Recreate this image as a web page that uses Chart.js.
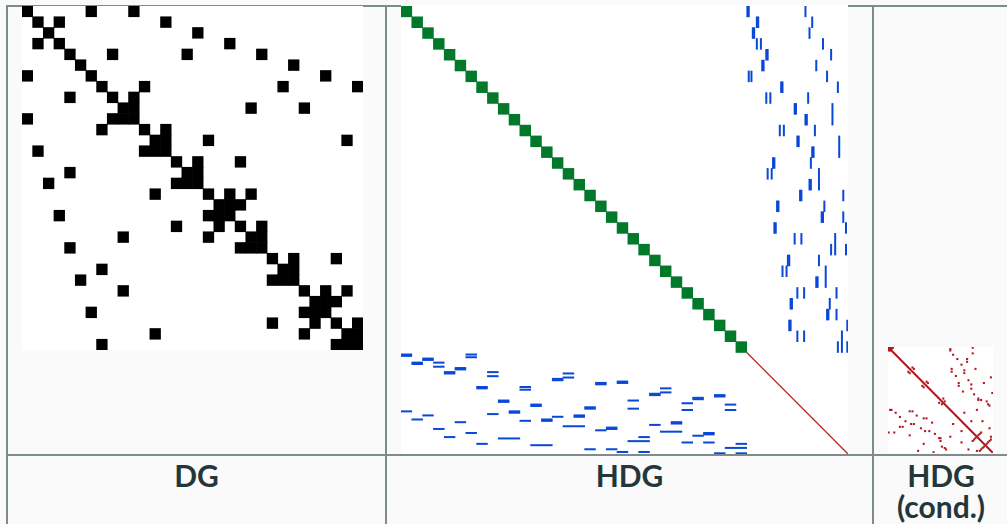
<!DOCTYPE html>
<html>
<head>
<meta charset="utf-8">
<script src="https://cdn.jsdelivr.net/npm/chart.js@4.4.1/dist/chart.umd.min.js"></script>
<style>
html,body{margin:0;padding:0;background:#fafafa;}
body{width:1007px;height:524px;position:relative;overflow:hidden;font-family:Lato,"DejaVu Sans",sans-serif;}
.ln{position:absolute;background:#7f8c8d;}
.box{position:absolute;background:#fff;}
canvas{position:absolute;}
.lbl{position:absolute;text-align:center;font-weight:bold;font-size:30px;line-height:31px;color:#23373b;}
</style>
</head>
<body>
<div class="ln" style="left:6px;top:5px;width:1001px;height:2px"></div>
<div class="ln" style="left:6px;top:5px;width:2px;height:519px"></div>
<div class="ln" style="left:385px;top:5px;width:2px;height:519px"></div>
<div class="ln" style="left:872px;top:5px;width:2px;height:519px"></div>
<div class="ln" style="left:6px;top:454px;width:1001px;height:2px"></div>

<div class="box" style="left:22px;top:6px;width:341px;height:344px"></div>
<div class="box" style="left:401px;top:5px;width:447px;height:449px"></div>
<div class="box" style="left:888px;top:347px;width:105px;height:106px"></div>

<canvas id="dg" width="341" height="344" style="left:22px;top:6px"></canvas>
<canvas id="hdgH" width="447" height="448" style="left:401px;top:6px"></canvas>
<canvas id="hdgV" width="447" height="448" style="left:401px;top:6px"></canvas>
<canvas id="cond" width="105" height="106" style="left:888px;top:347px"></canvas>

<div class="lbl" style="left:8px;top:460px;width:377px">DG</div>
<div class="lbl" style="left:387px;top:460px;width:485px">HDG</div>
<div class="lbl" style="left:874px;top:460px;width:134px">HDG<br>(cond.)</div>

<script>
// DG: 32x32 pattern, nonzero columns of each row
const DG_N = 32;
const DG_ROWS = [
  [0,6,10],[1,3,13],[2,16],[1,3,19],[4,8,15,22],[5,25],[0,6,28],[7,11,24,31],
  [4,8,10],[9,10,21,26],[0,8,9,10],[7,11,13],[12,13,17,30],[1,11,12,13],[14,16,20],[4,15,16],
  [2,14,15,16],[12,17,19,21],[18,19,20],[3,17,18,19],[14,18,20,22],[9,17,21,22],[4,20,21,22],[23,25,29],
  [7,24,25],[5,23,24,25],[9,26,28,30],[27,28,29],[6,26,27,28],[23,27,29,31],[12,26,30,31],[7,29,30,31]
];

// HDG: 32 element blocks of 8 dofs, then 75 face dofs (331 in total)
const HDG_N = 331;
const HDG_BLOCK = 8;
const HDG_ELEMS = [0,1,2,3,4,5,6,7,8,9,10,11,12,13,14,15,16,17,18,19,20,21,22,23,24,25,26,27,28,29,30,31];
// upper right block: [element row, face column, element rows spanned]
const HDG_UPPER = [
  [0,256,1],[0,257,1],[0,299,1],
  [1,263,1],[1,264,1],[1,304,1],
  [2,260,1],[2,261,1],[2,302,1],
  [3,263,1],[3,266,1],[3,312,1],
  [4,270,1],[4,271,1],[4,318,1],
  [5,267,1],[5,268,1],[5,307,1],
  [6,257,1],[6,259,1],[6,315,1],
  [7,281,1],[7,282,1],[7,323,1],
  [8,270,1],[8,273,1],[8,301,1],
  [9,291,1],[9,292,1],[9,319,2],
  [10,299,1],[10,300,1],
  [11,280,1],[11,283,1],[11,306,1],
  [12,293,1],[12,294,1],[12,324,2],
  [13,304,1],[13,305,1],
  [14,275,1],[14,276,1],[14,303,1],
  [15,271,1],[15,274,1],[15,309,2],
  [16,302,1],[16,303,1],
  [17,295,1],[17,296,1],[17,327,1],
  [18,278,1],[18,279,1],[18,313,1],
  [19,311,1],[19,312,1],[19,327,1],
  [20,276,1],[20,277,1],[20,329,1],
  [21,291,1],[21,296,1],[21,321,2],
  [22,318,1],[22,329,1],
  [23,286,1],[23,287,1],[23,309,1],
  [24,282,1],[24,285,1],[24,314,2],
  [25,307,1],[25,308,1],
  [26,293,1],[26,298,1],[26,322,1],
  [27,288,1],[27,289,1],[27,317,1],
  [28,315,1],[28,316,1],[28,322,1],
  [29,287,1],[29,288,1],[29,330,1],
  [30,293,1],[30,298,1],[30,326,2],
  [31,323,1],[31,330,1]
];
// lower left block: [element column, face row, element columns spanned]
const HDG_LOWER = [
  [0,257,1],[0,258,1],[0,299,1],
  [1,263,1],[1,264,1],[1,305,1],
  [2,260,1],[2,261,1],[2,302,1],
  [3,263,1],[3,266,1],[3,312,1],
  [4,270,1],[4,271,1],[4,318,1],
  [5,267,1],[5,268,1],[5,307,1],
  [6,257,1],[6,259,1],[6,315,1],
  [7,281,1],[7,282,1],[7,323,1],
  [8,270,1],[8,273,1],[8,301,1],
  [9,291,1],[9,292,1],[9,319,2],
  [10,299,1],[10,300,1],
  [11,281,1],[11,283,1],[11,306,1],
  [12,294,1],[12,295,1],[12,324,2],
  [13,305,1],[13,306,1],
  [14,275,1],[14,276,1],[14,303,1],
  [15,271,1],[15,274,1],[15,310,2],
  [16,302,1],[16,303,1],
  [17,296,1],[17,297,1],[17,327,1],
  [18,278,1],[18,279,1],[18,313,1],
  [19,311,1],[19,312,1],[19,327,1],
  [20,277,1],[20,278,1],[20,329,1],
  [21,291,1],[21,297,1],[21,321,2],
  [22,318,1],[22,329,1],
  [23,286,1],[23,287,1],[23,309,1],
  [24,282,1],[24,285,1],[24,314,2],
  [25,307,1],[25,308,1],
  [26,293,1],[26,298,1],[26,322,1],
  [27,289,1],[27,290,1],[27,317,1],
  [28,315,1],[28,316,1],[28,322,1],
  [29,287,1],[29,288,1],[29,330,1],
  [30,294,1],[30,298,1],[30,326,2],
  [31,323,1],[31,330,1]
];
const HDG_FACE_DIAG = [[256,256],[331,331]];

// condensed HDG: 75 face dofs, [row, col]
const COND_N = 75;
const COND_DIAG = [[0,0],[75,75]];
const COND_UPPER = [
  [1,44],[2,44],[0,60],[4,60],[5,46],[8,49],[12,52],[8,56],[10,56],[15,45],[17,45],[20,48],
  [16,54],[18,54],[15,62],[21,73],[23,57],[25,50],[27,50],[26,59],[29,59],[25,68],[31,53],
  [33,61],[32,74],[36,64],[37,64],[37,66],[38,70],[40,71],[44,63],[41,72],[46,54],[52,59],
  [52,67],[57,72],[63,73],[65,73]
];
const COND_LOWER = [
  [44,1],[44,2],[60,0],[60,4],[46,5],[49,8],[52,12],[56,8],[56,10],[45,15],[45,17],[48,20],
  [54,16],[54,18],[62,15],[73,21],[57,23],[50,25],[50,27],[59,26],[59,29],[68,25],[53,31],
  [61,33],[74,32],[64,36],[64,37],[66,37],[70,38],[71,40],[63,44],[72,41],[54,46],[59,52],
  [67,52],[72,57],[73,63],[73,65]
];
const COND_NEAR = [
  [0,1],[0,2],[1,0],[2,0],[1,2],[2,1],[0,3],
  [14,17],[17,14],[15,18],[18,15],
  [25,28],[28,25],[24,27],[27,24],
  [36,39],[39,36],[38,40],[40,38],
  [61,65],[65,61],[62,64],[64,62],[60,66],[66,60],
  [67,71],[71,67],[68,70],[70,68],[66,72],[72,66]
];

const BLACK = '#000000', GREEN = '#02782a', BLUE = '#0a48d6', RED = '#c0272d', DARKRED = '#b3161c';

function matrixChart(id, n, indexAxis, datasets){
  return new Chart(document.getElementById(id), {
    type: 'bar',
    data: {datasets},
    options: {
      indexAxis, responsive: false, animation: false, events: [],
      layout: {padding: 0},
      plugins: {legend: {display: false}, tooltip: {enabled: false}},
      scales: {
        x: {type: 'linear', min: 0, max: n, offset: false, display: false},
        y: {type: 'linear', min: 0, max: n, offset: false, reverse: true, display: false}
      }
    }
  });
}

// DG
const dgCell = 344 / DG_N;
matrixChart('dg', DG_N, 'y', [{
  data: DG_ROWS.flatMap((cols, r) => cols.map(c => ({y: r + 0.5, x: [c, c + 1]}))),
  backgroundColor: BLACK, barThickness: dgCell, grouped: false, borderWidth: 0
}]);

// HDG: element blocks + lower-left coupling (horizontal bars)
const hUnit = 448 / HDG_N, wUnit = 447 / HDG_N;
matrixChart('hdgH', HDG_N, 'y', [
  {data: HDG_ELEMS.map(k => ({y: k*HDG_BLOCK + HDG_BLOCK/2, x: [k*HDG_BLOCK, (k+1)*HDG_BLOCK]})),
   backgroundColor: GREEN, barThickness: hUnit*HDG_BLOCK, grouped: false, borderWidth: 0},
  {data: HDG_LOWER.map(([c, r, s]) => ({y: r + 0.5, x: [c*HDG_BLOCK, (c+s)*HDG_BLOCK]})),
   backgroundColor: BLUE, barThickness: hUnit, grouped: false, borderWidth: 0}
]);

// HDG: upper-right coupling (vertical bars) + face diagonal
matrixChart('hdgV', HDG_N, 'x', [
  {data: HDG_UPPER.map(([r, c, s]) => ({x: c + 0.5, y: [r*HDG_BLOCK, (r+s)*HDG_BLOCK]})),
   backgroundColor: BLUE, barThickness: wUnit, grouped: false, borderWidth: 0},
  {type: 'line', data: HDG_FACE_DIAG.map(([a, b]) => ({x: a, y: b})),
   borderColor: RED, borderWidth: 1.3, pointRadius: 0}
]);

// condensed
const cUnit = 105 / COND_N;
const condPts = COND_UPPER.concat(COND_LOWER, COND_NEAR);
matrixChart('cond', COND_N, 'x', [
  {type: 'line', data: COND_DIAG.map(([a, b]) => ({x: a, y: b})),
   borderColor: DARKRED, borderWidth: 2, pointRadius: 0},
  {data: condPts.map(([r, c]) => ({x: c + 0.5, y: [r, r + 1]})),
   backgroundColor: DARKRED, barThickness: cUnit, grouped: false, borderWidth: 0}
]);
</script>
</body>
</html>
